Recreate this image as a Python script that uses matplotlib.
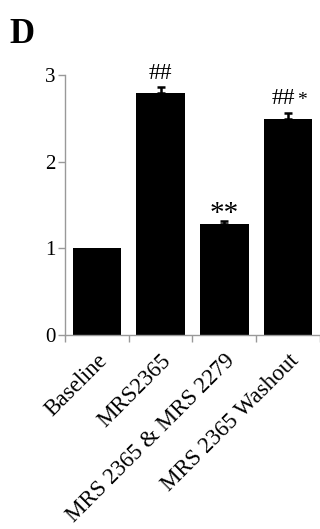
import matplotlib.pyplot as plt
from matplotlib.ticker import FixedLocator

categories = ['Baseline', 'MRS2365', 'MRS 2365 & MRS 2279', 'MRS 2365 Washout']
values = [1.0, 2.79, 1.28, 2.49]
errors = [0.0, 0.07, 0.04, 0.07]
marks = ['', '##', '**', '##*']

plt.rcParams['font.family'] = ['Liberation Serif', 'DejaVu Serif']

fig = plt.figure(figsize=(3.2, 5.29), dpi=100)
ax = fig.add_axes([0.203, 0.367, 0.797, 0.491])

x = list(range(len(categories)))
ax.bar(x, values, width=0.76, color='black')
# one-sided error bars, only where there is an error
ex = [i for i, e in zip(x, errors) if e > 0]
ev = [v for v, e in zip(values, errors) if e > 0]
ee = [e for e in errors if e > 0]
ax.errorbar(ex, ev, yerr=[[0] * len(ee), ee], fmt='none', ecolor='black',
            elinewidth=1.8, capsize=3, capthick=1.8)

ax.set_xlim(-0.5, 3.5)
ax.set_ylim(0, 3)
ax.set_yticks([0, 1, 2, 3])
ax.tick_params(axis='y', labelsize=15, length=5, width=1, color='#999999', pad=2)

ax.set_xticks(x)
ax.set_xticklabels(categories, rotation=45, ha='right', rotation_mode='anchor', fontsize=16.5)
ax.tick_params(axis='x', which='major', length=0, pad=11)
ax.xaxis.set_minor_locator(FixedLocator([-0.5, 0.5, 1.5, 2.5, 3.5]))
ax.tick_params(axis='x', which='minor', length=5, width=1, color='#999999')

for s in ['top', 'right']:
    ax.spines[s].set_visible(False)
for s in ['left', 'bottom']:
    ax.spines[s].set_color('#999999')
    ax.spines[s].set_linewidth(1)

# significance marks
for i, (v, e, m) in enumerate(zip(values, errors, marks)):
    if m == '##':
        ax.text(i, v + e + 0.04, m, ha='center', va='bottom', fontsize=17)
    elif m == '**':
        ax.text(i, v + e - 0.07, m, ha='center', va='bottom', fontsize=21)
    elif m == '##*':
        ax.text(i - 0.07, v + e + 0.05, '##', ha='center', va='bottom', fontsize=17)
        ax.text(i + 0.22, v + e + 0.05, '*', ha='center', va='bottom', fontsize=14)

fig.text(0.03, 0.919, 'D', fontsize=25, fontweight='bold', va='baseline')

fig.savefig('out.png', dpi=100)
